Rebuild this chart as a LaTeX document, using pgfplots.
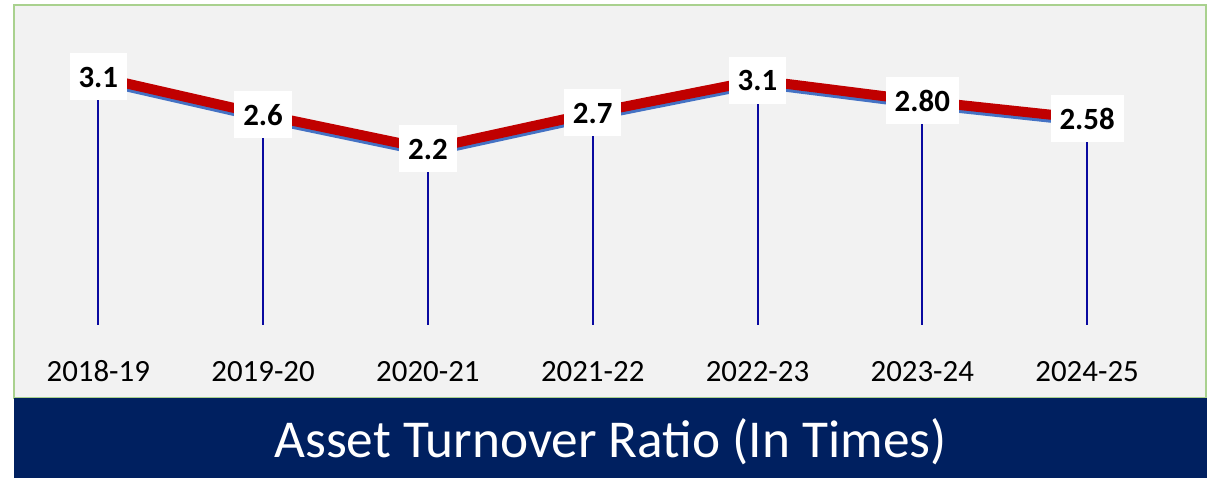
\documentclass[border=0pt]{standalone}
\usepackage{pgfplots}
\pgfplotsset{compat=1.18}
\usepackage{pgfplotstable}
\usepackage{fontspec}
\setmainfont{Carlito}
\definecolor{bggray}{HTML}{F2F2F2}
\definecolor{bordergreen}{HTML}{A9D18E}
\definecolor{navy}{HTML}{002060}
\definecolor{linered}{HTML}{C00000}
\definecolor{lineblue}{HTML}{4472C4}
\definecolor{dropblue}{RGB}{10,10,160}
\pgfplotstableread{
x y lab
0 3.10 3.1
1 2.63 2.6
2 2.20 2.2
3 2.65 2.7
4 3.06 3.1
5 2.80 2.80
6 2.58 2.58
}\data
\begin{document}
\begin{tikzpicture}
\fill[white] (0,0) rectangle (1215bp,478bp);
\begin{axis}[
  at={(14bp,80bp)}, anchor=south west,
  scale only axis,
  x=164.8bp, y=80bp,
  xmin=-0.5115, xmax=6.7215, ymin=-0.9125, ymax=4.0,
  axis background/.style={fill=bggray},
  axis line style={draw=bordergreen, line width=2bp},
  ytick=\empty,
  xtick={0,...,6},
  xticklabels={2018-19,2019-20,2020-21,2021-22,2022-23,2023-24,2024-25},
  major tick length=0pt,
  xticklabel style={anchor=center, yshift=26.5bp, font=\fontsize{31}{37}\selectfont, text=black},
  clip=false,
]
\addplot[ycomb, draw=dropblue, line width=2bp, mark=none] table[x=x,y=y]{\data};
\addplot[draw=lineblue, line width=10bp, yshift=-3bp, mark=none, line join=round] table[x=x,y=y]{\data};
\addplot[draw=linered, line width=10bp, mark=none, line join=round] table[x=x,y=y]{\data};
\addplot[draw=none, mark=none, nodes near coords, point meta=explicit symbolic,
  nodes near coords align=center,
  every node near coord/.append style={anchor=center, fill=white, text=black,
    font=\bfseries\fontsize{31}{37}\selectfont, inner xsep=9bp, inner ysep=0pt, minimum height=47bp}]
  table[x=x,y=y,meta=lab]{\data};
\end{axis}
\fill[navy] (14bp,0) rectangle (1207bp,80bp);
\node[anchor=base, text=white, font=\fontsize{53.5}{62}\selectfont, inner sep=0pt] at (610.5bp,21bp) {Asset Turnover Ratio (In Times)};
\end{tikzpicture}
\end{document}
